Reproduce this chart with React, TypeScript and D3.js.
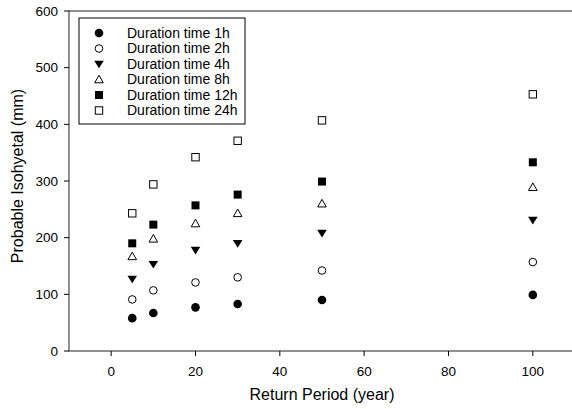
import React from "react";
import * as d3 from "d3";

const returnPeriods = [5, 10, 20, 30, 50, 100];
const seriesNames = ["Duration time 1h", "Duration time 2h", "Duration time 4h", "Duration time 8h", "Duration time 12h", "Duration time 24h"];
const d1h = [58, 67, 77, 83, 90, 99];
const d2h = [91, 107, 121, 130, 142, 157];
const d4h = [127, 153, 178, 190, 208, 231];
const d8h = [167, 198, 225, 243, 260, 289];
const d12h = [190, 223, 257, 276, 299, 333];
const d24h = [243, 294, 342, 371, 407, 453];
const xTicks = [0, 20, 40, 60, 80, 100];
const yTicks = [0, 100, 200, 300, 400, 500, 600];

const allSeries = [d1h, d2h, d4h, d8h, d12h, d24h];
const FONT = "'Liberation Sans', Arial, sans-serif";

function Marker({ kind, x, y }: { kind: number; x: number; y: number }) {
  const r = 4.3;
  switch (kind) {
    case 0:
      return <circle cx={x} cy={y} r={r} fill="#000" />;
    case 1:
      return <circle cx={x} cy={y} r={r - 0.5} fill="#fff" stroke="#000" strokeWidth={1} />;
    case 2:
      return <path d={`M${x - r - 0.5},${y - r + 1}L${x + r + 0.5},${y - r + 1}L${x},${y + r}Z`} fill="#000" />;
    case 3:
      return <path d={`M${x - r},${y + r - 1}L${x + r},${y + r - 1}L${x},${y - r}Z`} fill="#fff" stroke="#000" strokeWidth={1} />;
    case 4:
      return <rect x={x - 4} y={y - 4} width={8} height={8} fill="#000" />;
    default:
      return <rect x={x - 3.7} y={y - 3.7} width={7.4} height={7.4} fill="#fff" stroke="#000" strokeWidth={1} />;
  }
}

export default function App() {
  const W = 572, H = 409;
  const x = d3.scaleLinear().domain([-10, 110]).range([69, 575]);
  const y = d3.scaleLinear().domain([0, 600]).range([351, 11]);
  const left = x(-10), right = x(110), top = y(600), bottom = y(0);

  return (
    <svg width={W} height={H} style={{ position: "absolute", left: 0, top: 0, background: "#fff" }} fontFamily={FONT}>
      <rect width={W} height={H} fill="#fff" />
      {/* frame */}
      <rect x={left} y={top} width={right - left} height={bottom - top} fill="none" stroke="#222" strokeWidth={1} />
      {/* y ticks */}
      {yTicks.map((t) => (
        <g key={"y" + t}>
          <line x1={left - 5} x2={left} y1={y(t)} y2={y(t)} stroke="#000" />
          <text x={left - 11} y={y(t)} dy="0.35em" textAnchor="end" fontSize={13.5} fill="#000">{t}</text>
        </g>
      ))}
      {/* x ticks */}
      {xTicks.map((t) => (
        <g key={"x" + t}>
          <line x1={x(t)} x2={x(t)} y1={bottom} y2={bottom + 5} stroke="#000" />
          <text x={x(t)} y={bottom + 20} dy="0.35em" textAnchor="middle" fontSize={13.5} fill="#000">{t}</text>
        </g>
      ))}
      <text x={x(50)} y={394} dy="0.35em" textAnchor="middle" fontSize={16} fill="#000">Return Period (year)</text>
      <text transform={`translate(17,176) rotate(-90)`} dy="0.35em" textAnchor="middle" fontSize={16} fill="#000">Probable Isohyetal (mm)</text>
      {/* data */}
      {allSeries.map((s, si) =>
        s.map((v, i) => <Marker key={si + "-" + i} kind={si} x={x(returnPeriods[i])} y={y(v)} />)
      )}
      {/* legend */}
      <rect x={79} y={18} width={166} height={106} fill="#fff" stroke="#000" strokeWidth={1} />
      {seriesNames.map((n, i) => {
        const ly = 33 + i * 15.5;
        return (
          <g key={n}>
            <Marker kind={i} x={99} y={ly} />
            <text x={127} y={ly} dy="0.35em" fontSize={14} fill="#000">{n}</text>
          </g>
        );
      })}
    </svg>
  );
}
